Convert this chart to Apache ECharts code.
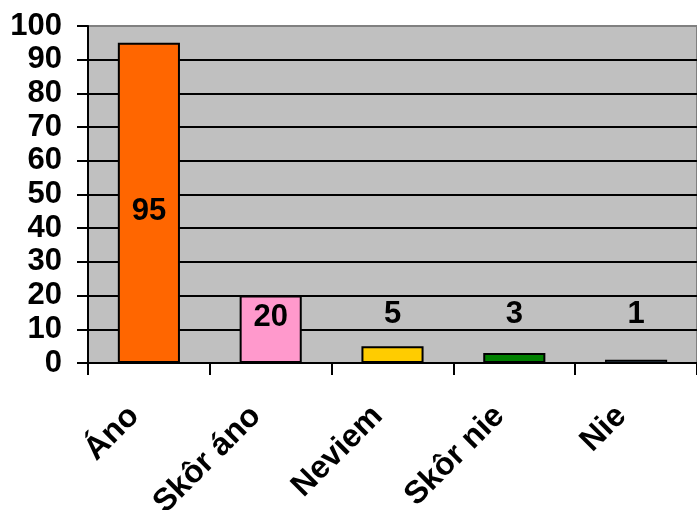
<!DOCTYPE html>
<html>
<head>
<meta charset="utf-8">
<script src="https://cdn.jsdelivr.net/npm/echarts@6/dist/echarts.min.js"></script>
<style>html,body{margin:0;padding:0;background:#fff}#c{width:697px;height:510px}</style>
</head>
<body>
<div id="c"></div>
<script>
const categories = ['Áno', 'Skôr áno', 'Neviem', 'Skôr nie', 'Nie'];
const values = [95, 20, 5, 3, 1];
const barColors = ['#FF6600', '#FF99CC', '#FFCC00', '#008000', '#6A90B4'];
const yTicks = [0, 10, 20, 30, 40, 50, 60, 70, 80, 90, 100];

const labelCfg = [
  { position: 'inside', offset: [0, 9] },
  { position: 'insideTop', distance: 6 },
  { position: 'top', distance: 16 },
  { position: 'top', distance: 23 },
  { position: 'top', distance: 30 }
];

const font = '"Liberation Sans", Arial, sans-serif';
const chart = echarts.init(document.getElementById('c'), null, { renderer: 'canvas' });
chart.setOption({
  animation: false,
  backgroundColor: '#ffffff',
  grid: {
    left: 88, top: 26, right: 0, bottom: 147,
    outerBoundsMode: 'none', containLabel: false,
    show: true, backgroundColor: '#C0C0C0', borderColor: '#808080', borderWidth: 2
  },
  xAxis: {
    type: 'category',
    data: categories,
    axisLine: { lineStyle: { color: '#000', width: 2 } },
    axisTick: { show: true, length: 12, lineStyle: { color: '#000', width: 2 } },
    axisLabel: {
      interval: 0, rotate: 45, margin: 56, padding: [0, 5, 0, 0], verticalAlign: 'bottom',
      fontFamily: font, fontWeight: 'bold', fontSize: 32, color: '#000'
    }
  },
  yAxis: {
    type: 'value',
    min: yTicks[0], max: yTicks[yTicks.length - 1], interval: 10,
    axisLine: { show: true, lineStyle: { color: '#000', width: 2 } },
    axisTick: { show: true, length: 11, lineStyle: { color: '#000', width: 2 } },
    axisLabel: {
      margin: 26, fontFamily: font, fontWeight: 'bold', fontSize: 31, color: '#000'
    },
    splitLine: { show: true, showMaxLine: false, lineStyle: { color: '#000', width: 2 } }
  },
  series: [{
    type: 'bar',
    barWidth: '51%',
    data: values.map((v, i) => ({
      value: v,
      itemStyle: { color: barColors[i], borderColor: '#000', borderWidth: i === 4 ? 1.5 : 2 },
      label: Object.assign({
        show: true, fontFamily: font, fontWeight: 'bold', fontSize: 31, color: '#000'
      }, labelCfg[i])
    }))
  }]
});
</script>
</body>
</html>
